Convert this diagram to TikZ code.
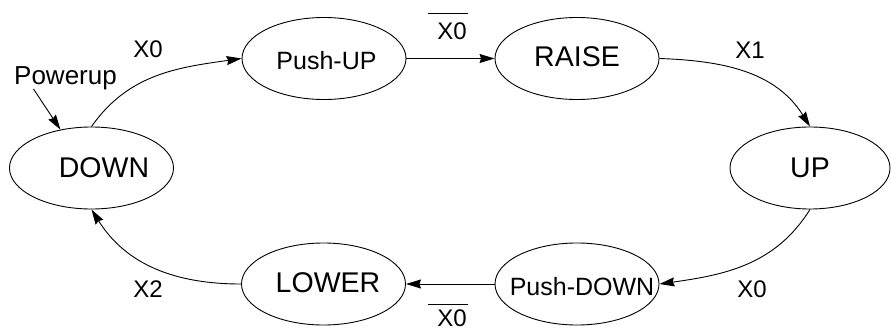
\documentclass[tikz,border=0pt]{standalone}
\usepackage{fontspec}
\setmainfont{Liberation Sans}
\usetikzlibrary{shapes.geometric,arrows.meta,calc}
\tikzset{
  state/.style={draw, ellipse, line width=0.9pt, minimum width=164pt, minimum height=82pt, inner sep=0pt},
  bigtxt/.style={anchor=base, inner sep=0pt, font=\fontsize{28.5}{30}\selectfont},
  midtxt/.style={anchor=base, inner sep=0pt, font=\fontsize{25}{27}\selectfont},
  lbl/.style={anchor=base, inner sep=0pt, font=\fontsize{24}{26}\selectfont},
  conn/.style={line width=0.9pt, -{Stealth[length=15pt,width=9pt,inset=1.5pt]}},
  bar/.style={line width=0.9pt}
}
\begin{document}
\begin{tikzpicture}[x=1pt,y=1pt]
\useasboundingbox (0,0) rectangle (891,330);
% states
\node[state] (down) at (91.5,162) {};
\node[state] (pushup) at (324,271.5) {};
\node[state] (raise) at (577,271.5) {};
\node[state, minimum width=160pt] (up) at (810,162) {};
\node[state] (lower) at (323.5,46) {};
\node[state] (pushdown) at (577,46) {};
% state texts
\node[bigtxt] (downT) at (104,153) {DOWN};
\node[midtxt] (pushupT) at (326.5,260) {Push-UP};
\node[bigtxt] (raiseT) at (577,263) {RAISE};
\node[bigtxt] (upT) at (810,153) {UP};
\node[bigtxt] (lowerT) at (328,38) {LOWER};
\node[midtxt] (pushdownT) at (582,35) {Push-DOWN};
% transition labels
\node[lbl] (lx0) at (148,272) {X0};
\node[lbl] (lx0bar) at (452,290) {X0};
\draw[bar] ([xshift=-9pt,yshift=10pt]lx0bar.north west) -- ([xshift=1pt,yshift=10pt]lx0bar.north east);
\node[lbl] (lx1) at (750,271) {X1};
\node[lbl] (lx0b) at (752,33) {X0};
\node[lbl] (lx2) at (148,33) {X2};
\node[lbl] (lx0barb) at (452,3.5) {X0};
\draw[bar] ([xshift=-9pt,yshift=5pt]lx0barb.north west) -- ([xshift=1pt,yshift=5pt]lx0barb.north east);
\node[anchor=base, inner sep=0pt, font=\fontsize{26}{28}\selectfont] (pw) at (65.5,245) {Powerup};
% connectors
\draw[conn] (down.north) to[out=55,in=188] (pushup.west);
\draw[conn] (pushup.east) -- (raise.west);
\draw[conn] (raise.east) to[out=-2,in=122] (up.north);
\draw[conn] (up.south) to[out=-122,in=8] (pushdown.east);
\draw[conn] (pushdown.west) -- (lower.west -| lower.east);
\draw[conn] (lower.west) to[out=180,in=-58] (down.south);
\draw[conn] ([xshift=-32pt,yshift=-4pt]pw.base) -- (down.129);
\end{tikzpicture}
\end{document}
